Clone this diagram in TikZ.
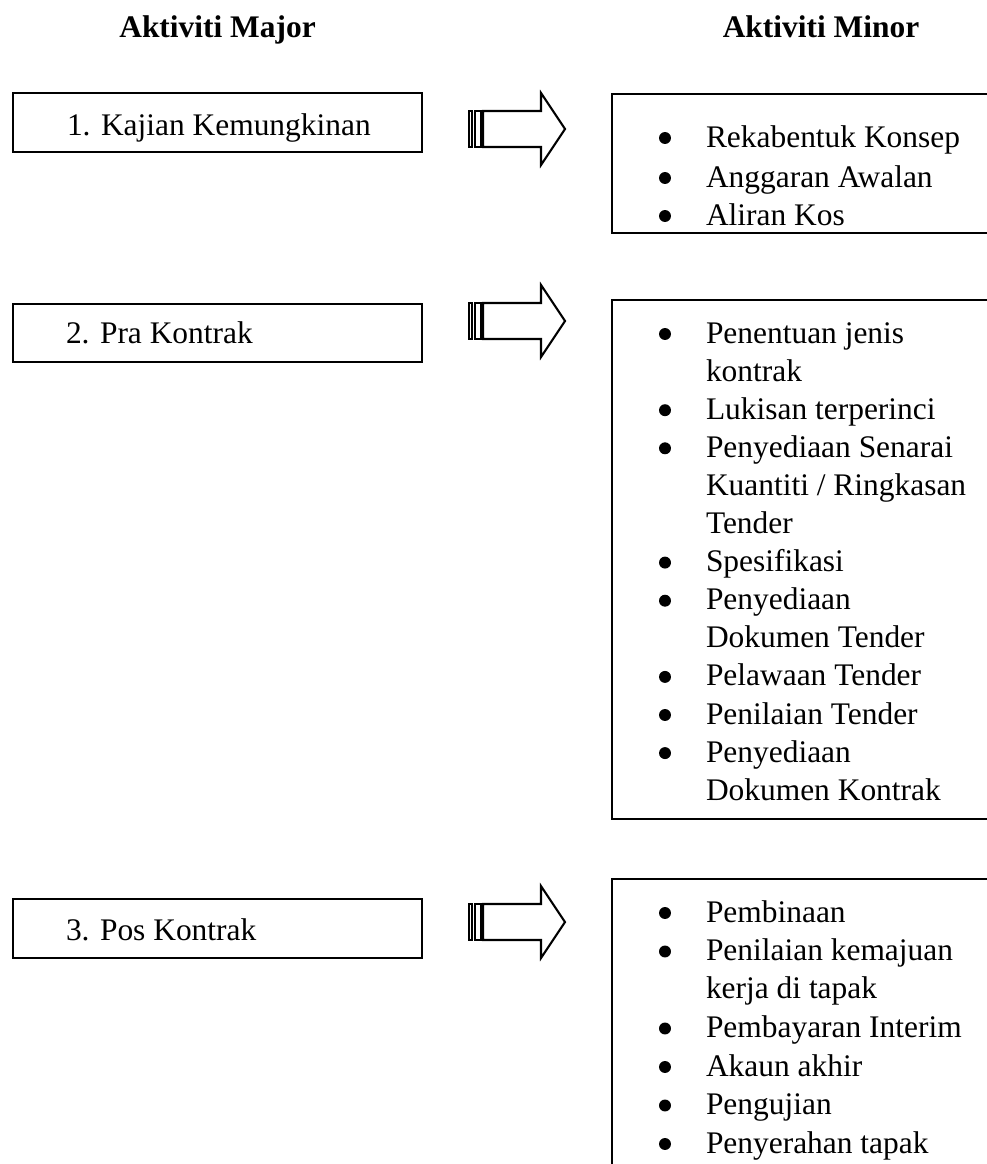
\documentclass[tikz,border=0pt]{standalone}
\usepackage{fontspec}
\setmainfont{Liberation Serif}
% multi-line item whose baseline is that of its first line
\newcommand\itemlines[1]{\begin{tabular}[t]{@{}l@{}}#1\end{tabular}}
\begin{document}
\begin{tikzpicture}[x=0.385pt,y=-0.385pt,
  every node/.style={inner sep=0pt, outer sep=0pt},
  txt/.style={font=\fontsize{12.1pt}{14.7pt}\selectfont, anchor=base west},
  head/.style={font=\fontsize{12.1pt}{14.7pt}\selectfont\bfseries, anchor=base},
  frame/.style={draw, line width=0.8pt, rectangle, anchor=north west},
  majorbox/.style={frame, minimum width=157.5pt},
  minorbox/.style={frame, minimum width=149.4pt},
  dot/.style={circle, fill, minimum size=4.6pt},
  stripedarrow/.pic={
    \draw[line width=0.8pt] (0,0) rectangle (3,36);
    \draw[line width=0.8pt] (6,0) rectangle (12,36);
    \draw[line width=0.8pt, line join=miter]
      (14,0) -- (72,0) -- (72,-18) -- (96,18) -- (72,54) -- (72,36) -- (14,36) -- cycle;
  }]
\path[use as bounding box] (0,0) rectangle (987,1164);
\clip (0,0) rectangle (987,1164);

% column headings
\node[head] (hmaj) at (217.5,37) {Aktiviti Major};
\node[head] (hmin) at (821,37) {Aktiviti Minor};

% major activities
\node[majorbox, minimum height=22.7pt] (m1) at (13,93) {};
\node[txt] (m1t) at (67,135) {1. Kajian Kemungkinan};
\node[majorbox, minimum height=22.3pt] (m2) at (13,304) {};
\node[txt] (m2t) at (66,343) {2. Pra Kontrak};
\node[majorbox, minimum height=22.7pt] (m3) at (13,899) {};
\node[txt] (m3t) at (66,940) {3. Pos Kontrak};

% striped block arrows
\pic (a1) at (469,111) {stripedarrow};
\pic (a2) at (469,303) {stripedarrow};
\pic (a3) at (469,904) {stripedarrow};

% minor activities: frames run off the right (and bottom) edge
\node[minorbox, minimum height=53.5pt] (n1) at (612,94) {};
\node[minorbox, minimum height=199.8pt] (n2) at (612,300) {};
\node[minorbox, minimum height=127pt] (n3) at (612,879) {};

% list 1
\node[dot] (d11) at (665,138) {};
\node[txt] (i11) at (706,147) {Rekabentuk Konsep};
\node[dot] (d12) at (665,178) {};
\node[txt] (i12) at (706,187) {Anggaran Awalan};
\node[dot] (d13) at (665,216) {};
\node[txt] (i13) at (706,225) {Aliran Kos};

% list 2
\node[dot] (d21) at (665,334) {};
\node[txt] (i21) at (706,343) {\itemlines{Penentuan jenis\\kontrak}};
\node[dot] (d22) at (665,410.2) {};
\node[txt] (i22) at (706,419.2) {Lukisan terperinci};
\node[dot] (d23) at (665,448.3) {};
\node[txt] (i23) at (706,457.3) {\itemlines{Penyediaan Senarai\\Kuantiti / Ringkasan\\Tender}};
\node[dot] (d24) at (665,562.6) {};
\node[txt] (i24) at (706,571.6) {Spesifikasi};
\node[dot] (d25) at (665,600.7) {};
\node[txt] (i25) at (706,609.7) {\itemlines{Penyediaan\\Dokumen Tender}};
\node[dot] (d26) at (665,676.9) {};
\node[txt] (i26) at (706,685.9) {Pelawaan Tender};
\node[dot] (d27) at (665,715) {};
\node[txt] (i27) at (706,724) {Penilaian Tender};
\node[dot] (d28) at (665,753.1) {};
\node[txt] (i28) at (706,762.1) {\itemlines{Penyediaan\\Dokumen Kontrak}};

% list 3
\node[dot] (d31) at (665,913) {};
\node[txt] (i31) at (706,922) {Pembinaan};
\node[dot] (d32) at (665,951.5) {};
\node[txt] (i32) at (706,960.5) {\itemlines{Penilaian kemajuan\\kerja di tapak}};
\node[dot] (d33) at (665,1028.5) {};
\node[txt] (i33) at (706,1037.5) {Pembayaran Interim};
\node[dot] (d34) at (665,1067) {};
\node[txt] (i34) at (706,1076) {Akaun akhir};
\node[dot] (d35) at (665,1105.5) {};
\node[txt] (i35) at (706,1114.5) {Pengujian};
\node[dot] (d36) at (665,1144) {};
\node[txt] (i36) at (706,1153) {Penyerahan tapak};
\end{tikzpicture}
\end{document}
